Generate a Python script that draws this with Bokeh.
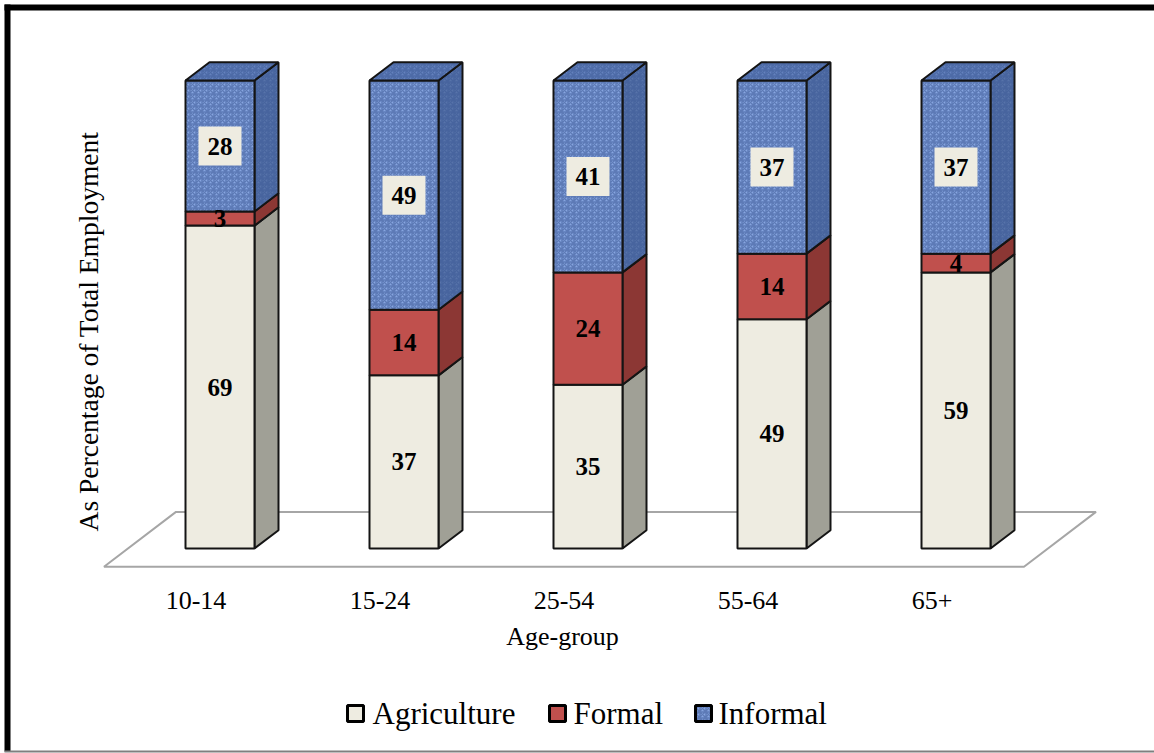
from bokeh.plotting import figure
from bokeh.models import Range1d, ColumnDataSource
from bokeh.core.properties import value
from bokeh.embed import file_html
from bokeh.resources import INLINE

# --- data -----------------------------------------------------------------
age_groups = ["10-14", "15-24", "25-54", "55-64", "65+"]
agriculture = [69, 37, 35, 49, 59]
formal = [3, 14, 24, 14, 4]
informal = [28, 49, 41, 37, 37]
series_names = ["Agriculture", "Formal", "Informal"]

# --- layout constants (pixels) ---------------------------------------------
W, H = 1154, 753
BASE_PX = 548.0        # pixel row of 0 %
PX_PER_PCT = 4.68      # pixels per percentage point
CAT_PX0 = 219.5        # pixel column of the first category
CAT_STEP = 184.0       # pixels between categories
DEPTH_DX_PX = 24.0     # 3-D depth, horizontal
DEPTH_DY_PX = 18.3     # 3-D depth, vertical
BAR_HALF_PX = 34.5

FONT = value("Liberation Serif")


def px2x(px):
    return (px - CAT_PX0) / CAT_STEP


def px2y(py):
    return (BASE_PX - py) / PX_PER_PCT


ddx = DEPTH_DX_PX / CAT_STEP
ddy = DEPTH_DY_PX / PX_PER_PCT
hw = BAR_HALF_PX / CAT_STEP

p = figure(width=W, height=H, output_backend="svg", toolbar_location=None,
           x_range=Range1d(px2x(0), px2x(W)), y_range=Range1d(px2y(H), px2y(0)),
           min_border=0, min_border_left=0, min_border_right=0,
           min_border_top=0, min_border_bottom=0)
p.xaxis.visible = False
p.yaxis.visible = False
p.grid.visible = False
p.outline_line_color = None
p.background_fill_color = "white"
p.border_fill_color = "white"

# --- outer frame ----------------------------------------------------------
p.segment(x0=[px2x(4)], y0=[px2y(7)], x1=[px2x(W)], y1=[px2y(7)],
          line_color="black", line_width=6)
p.segment(x0=[px2x(7)], y0=[px2y(4)], x1=[px2x(7)], y1=[px2y(751)],
          line_color="black", line_width=6)
p.segment(x0=[px2x(4)], y0=[px2y(751)], x1=[px2x(W)], y1=[px2y(751)],
          line_color="#7f7f7f", line_width=2)

# --- floor (depth from -1 to +2 bar depths) -------------------------------
n = len(age_groups)
fl, fr = -0.5, n - 0.5
floor_x = [fl - ddx, fr - ddx, fr + 2 * ddx, fl + 2 * ddx]
floor_y = [-ddy, -ddy, 2 * ddy, 2 * ddy]
p.patch(floor_x, floor_y, fill_color="white", line_color="#a6a6a6", line_width=2)

# --- stacked 3-D bars -------------------------------------------------------
styles = {
    "Agriculture": dict(front="#eeece1", side="#a0a096", hatch=None),
    "Formal": dict(front="#c0504d", side="#8c3734", hatch=None),
    "Informal": dict(front="#87a5e0", side="#5773aa", hatch="#3a5894"),
}
values = {"Agriculture": agriculture, "Formal": formal, "Informal": informal}


def hatch_for(name):
    st = styles[name]
    if not st["hatch"]:
        return {}
    return dict(hatch_pattern="criss_cross", hatch_color=st["hatch"],
                hatch_alpha=0.55, hatch_scale=6, hatch_weight=1.5)


cum = [0.0] * n
label_rows = []
for name in series_names:
    vals = values[name]
    st = styles[name]
    bottoms = cum[:]
    tops = [b + v for b, v in zip(bottoms, vals)]
    xs = list(range(n))

    # side faces
    side_xs = [[i + hw, i + hw + ddx, i + hw + ddx, i + hw] for i in xs]
    side_ys = [[b, b + ddy, t + ddy, t] for b, t in zip(bottoms, tops)]
    p.patches(side_xs, side_ys, fill_color=st["side"], line_color="#141414",
              line_width=2, **hatch_for(name))

    # front faces
    src = ColumnDataSource(dict(left=[i - hw for i in xs], right=[i + hw for i in xs],
                                bottom=bottoms, top=tops))
    p.quad(left="left", right="right", bottom="bottom", top="top", source=src,
           fill_color=st["front"], line_color="#141414", line_width=2,
           **hatch_for(name))

    for i in xs:
        label_rows.append((name, i, (bottoms[i] + tops[i]) / 2, vals[i]))
    cum = tops

# top faces of the stacks
top_xs = [[i - hw, i + hw, i + hw + ddx, i - hw + ddx] for i in range(n)]
top_ys = [[cum[i], cum[i], cum[i] + ddy, cum[i] + ddy] for i in range(n)]
p.patches(top_xs, top_ys, fill_color="#6482be", line_color="#141414", line_width=2,
          hatch_pattern="criss_cross", hatch_color="#3a5894", hatch_alpha=0.55,
          hatch_scale=6, hatch_weight=1.5)

# --- value labels -----------------------------------------------------------
box_x = [i for nm, i, y, v in label_rows if nm == "Informal"]
box_y = [y for nm, i, y, v in label_rows if nm == "Informal"]
p.rect(x=box_x, y=box_y, width=43, height=39, width_units="screen",
       height_units="screen", fill_color="#eeece1", line_color=None)
p.text(x=[i for nm, i, y, v in label_rows], y=[y for nm, i, y, v in label_rows],
       text=[str(v) for nm, i, y, v in label_rows], text_font=FONT,
       text_font_size="25px", text_font_style="bold", text_color="black",
       text_align="center", text_baseline="middle")

# --- category labels and axis titles -------------------------------------------
cat_y = -ddy - 34 / PX_PER_PCT
p.text(x=[i - ddx for i in range(n)], y=[cat_y] * n, text=age_groups, text_font=FONT,
       text_font_size="26px", text_color="black", text_align="center",
       text_baseline="middle")
p.text(x=[px2x(562)], y=[px2y(636)], text=["Age-group"], text_font=FONT,
       text_font_size="26px", text_color="black", text_align="center",
       text_baseline="middle")
p.text(x=[px2x(88)], y=[px2y(331)], text=["As Percentage of Total Employment"],
       text_font=FONT, text_font_size="27.5px", text_color="black",
       text_align="center", text_baseline="middle", angle=1.5707963)

# --- legend (swatch + label per series) ------------------------------------------
legend_swatch_px = [355, 557, 703]
legend_text_px = [372, 573, 718]
legend_y = px2y(713)
for name, sx, tx in zip(series_names, legend_swatch_px, legend_text_px):
    p.rect(x=[px2x(sx)], y=[legend_y], width=16, height=16, width_units="screen",
           height_units="screen", fill_color=styles[name]["front"],
           line_color="black", line_width=3, **hatch_for(name))
p.text(x=[px2x(tx) for tx in legend_text_px], y=[legend_y] * len(series_names),
       text=series_names, text_font=FONT, text_font_size="31px", text_color="black",
       text_align="left", text_baseline="middle")

open("out.html", "w").write(file_html(p, INLINE))
